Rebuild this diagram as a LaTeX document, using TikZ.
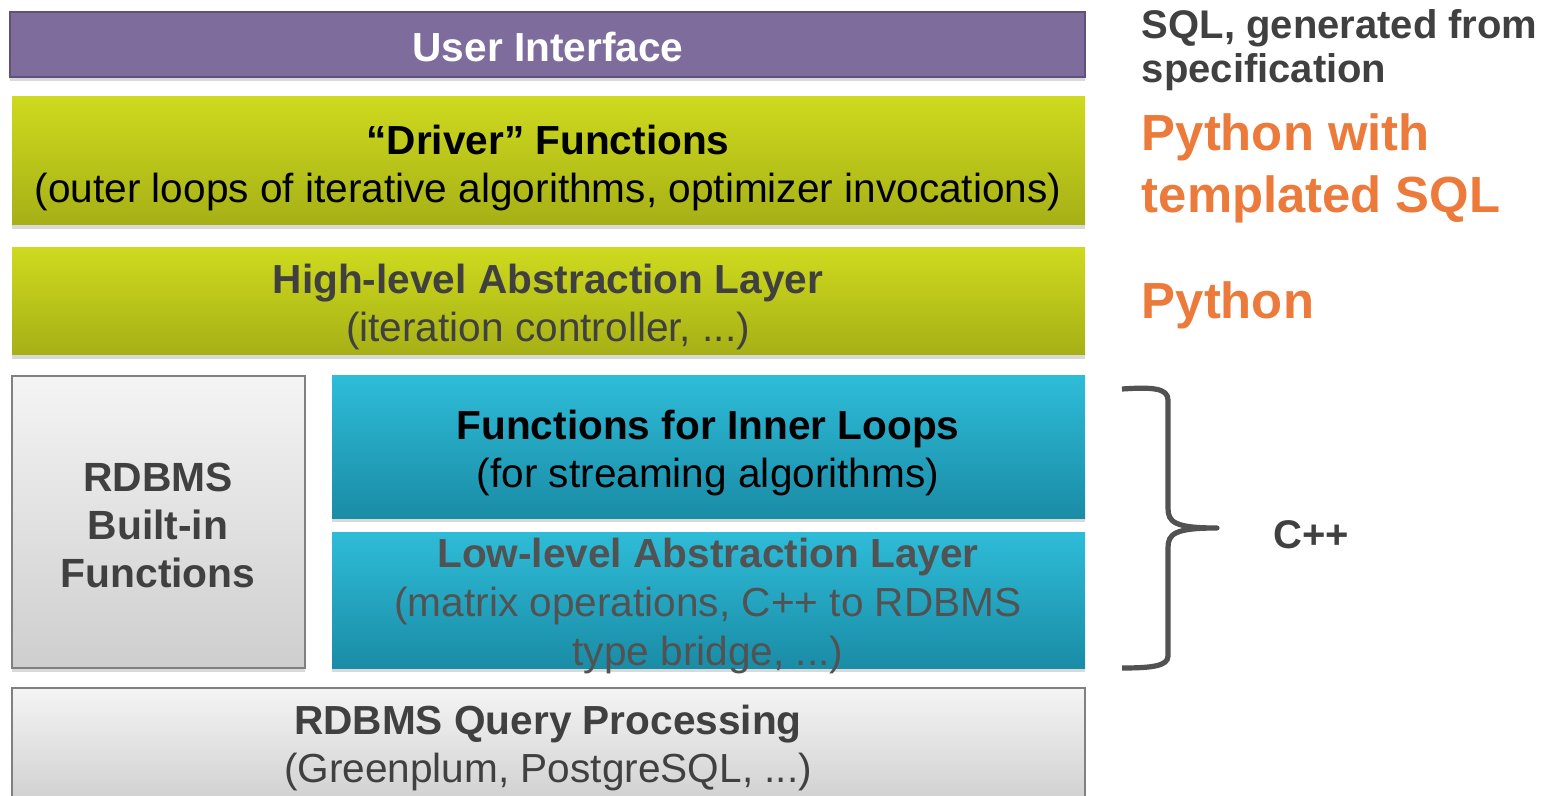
\documentclass[tikz,border=0pt]{standalone}
\usepackage{fontspec}
\setmainfont{Liberation Sans}
\usetikzlibrary{shadows}

\definecolor{uipurple}{RGB}{126,108,156}
\definecolor{uiedge}{RGB}{96,80,124}
\definecolor{limetop}{RGB}{206,218,30}
\definecolor{limebot}{RGB}{166,176,22}
\definecolor{cyantop}{RGB}{46,188,216}
\definecolor{cyanbot}{RGB}{26,140,166}
\definecolor{greytop}{RGB}{244,244,244}
\definecolor{greybot}{RGB}{206,206,206}
\definecolor{greyedge}{RGB}{128,128,128}
\definecolor{inkgrey}{RGB}{64,64,64}
\definecolor{softgrey}{RGB}{82,82,82}
\definecolor{pyorange}{RGB}{236,122,58}

\begin{document}
\begin{tikzpicture}[x=0.5pt,y=0.5pt,yscale=-1,xscale=1,
  layer/.style={drop shadow={shadow xshift=0pt,shadow yshift=-2pt,opacity=0.3}},
  limelayer/.style={layer,top color=limetop,bottom color=limebot},
  cyanlayer/.style={layer,top color=cyantop,bottom color=cyanbot},
  greylayer/.style={layer,draw=greyedge,line width=0.6pt,top color=greytop,bottom color=greybot},
  boxtext/.style={inner sep=0.75pt,align=center,font=\fontsize{20.3pt}{24pt}\selectfont},
  sidetext/.style={anchor=north west,inner sep=0.75pt,align=left,font=\fontsize{20pt}{22pt}\selectfont\bfseries}]
\useasboundingbox (0,0) rectangle (1547,796);

%Shape: Rectangle [user interface]
\draw [draw=uiedge,line width=0.8pt,fill=uipurple,layer] (10,12) rectangle (1085,77) ;
%Shape: Rectangle [driver functions]
\path [limelayer] (12,97) rectangle (1085,225) ;
%Shape: Rectangle [high-level layer]
\path [limelayer] (12,248) rectangle (1085,355) ;
%Shape: Rectangle [built-in functions]
\path [greylayer] (12,376) rectangle (305,668) ;
%Shape: Rectangle [inner loops]
\path [cyanlayer] (332,376) rectangle (1085,518) ;
%Shape: Rectangle [low-level layer]
\path [cyanlayer] (332,532) rectangle (1085,668) ;
%Shape: Rectangle [query processing]
\path [greylayer] (12,688) rectangle (1085,810) ;

%Curve Lines [brace]
\draw [color=softgrey,line width=2.6pt,line join=round]  (1122,389) .. controls (1152,387) and (1168,388) .. (1168,400) -- (1168,508) .. controls (1168,522) and (1174,528) .. (1217,528) .. controls (1174,528) and (1168,534) .. (1168,548) -- (1168,656) .. controls (1168,666) and (1152,668) .. (1122,668) ;

% Text Node
\draw (548,47) node (ui) [boxtext,text=white] {\bfseries User Interface};
% Text Node
\draw (548,168) node (driver) [boxtext,text=black] {\bfseries “Driver” Functions\\(outer loops of iterative algorithms, optimizer invocations)};
% Text Node
\draw (548,307) node (highlvl) [boxtext,text=inkgrey] {\bfseries High-level Abstraction Layer\\(iteration controller, ...)};
% Text Node
\draw (158,525) node (builtin) [boxtext,text=inkgrey,font=\fontsize{20.4pt}{24pt}\selectfont\bfseries] {RDBMS\\Built-in\\Functions};
% Text Node
\draw (708,453) node (inner) [boxtext,text=black] {\bfseries Functions for Inner Loops\\(for streaming algorithms)};
% Text Node
\draw (708,606) node (lowlvl) [boxtext,text=softgrey,font=\fontsize{20.3pt}{24.7pt}\selectfont] {\bfseries Low-level Abstraction Layer\\(matrix operations, C++ to RDBMS\\type bridge, ...)};
% Text Node
\draw (548,748) node (query) [boxtext,text=inkgrey] {\bfseries RDBMS Query Processing\\(Greenplum, PostgreSQL, ...)};

% Text Node
\draw (1140,8) node (sqlgen) [sidetext,text=inkgrey] {SQL, generated from\\specification};
% Text Node
\draw (1140,112) node (pytmpl) [sidetext,text=pyorange,font=\fontsize{25.4pt}{31pt}\selectfont\bfseries] {Python with\\templated SQL};
% Text Node
\draw (1140,280) node (python) [sidetext,text=pyorange,font=\fontsize{25.4pt}{31pt}\selectfont\bfseries] {Python};
% Text Node
\draw (1311,535) node (cpp) [inner sep=0.75pt,text=inkgrey,font=\fontsize{20pt}{24pt}\selectfont\bfseries] {C++};

\end{tikzpicture}
\end{document}
